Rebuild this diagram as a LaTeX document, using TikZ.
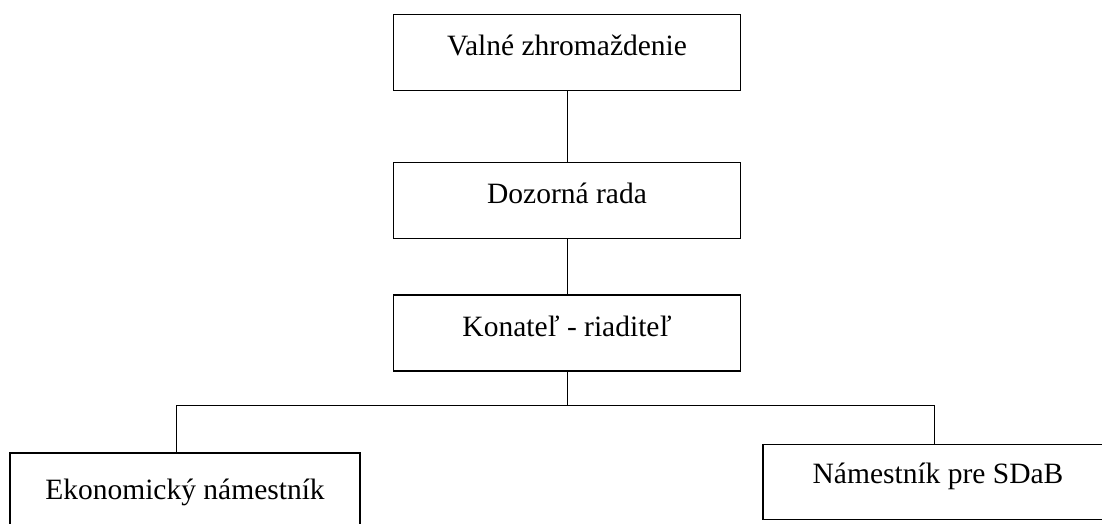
\documentclass[tikz,border=0pt]{standalone}
\usepackage{fontspec}
\setmainfont{Liberation Serif}
\usetikzlibrary{calc}

\begin{document}
\begin{tikzpicture}[x=1pt, y=-1pt,
    orgbox/.style={draw=black, line width=1.5pt, fill=white, inner sep=0pt,
      minimum width=347pt, minimum height=76pt,
      font=\fontsize{29.5}{34}\selectfont, text height=0.66em, text depth=0pt},
    link/.style={draw=black, line width=1pt}]

  \useasboundingbox (0,0) rectangle (1102,523);
  \clip (0,0) rectangle (1102,523);
  \fill[white] (0,0) rectangle (1102,523);

  % upper chain
  \node[orgbox] (valne)   at (567, 52.5) {Valné zhromaždenie};
  \node[orgbox] (dozorna) at (567, 200.5) {Dozorná rada};
  \node[orgbox] (konatel) at (567, 333) {Konateľ - riaditeľ};

  % lower level
  \node[orgbox, minimum width=350pt, minimum height=86pt] (eko) at (185, 496) {Ekonomický námestník};
  \node[orgbox, minimum width=350pt, minimum height=75pt, text depth=0.34em] (nam) at (938, 482) {Námestník pre SDaB};

  \coordinate (busL) at (176, 405);
  \coordinate (busR) at (934, 405);

  \draw[link] (valne) -- (dozorna);
  \draw[link] (dozorna) -- (konatel);
  \draw[link] (konatel.south) -- (konatel.south |- busL);
  \draw[link] (busL |- eko.north) -- (busL) -- (busR) -- (busR |- nam.north);

\end{tikzpicture}
\end{document}
